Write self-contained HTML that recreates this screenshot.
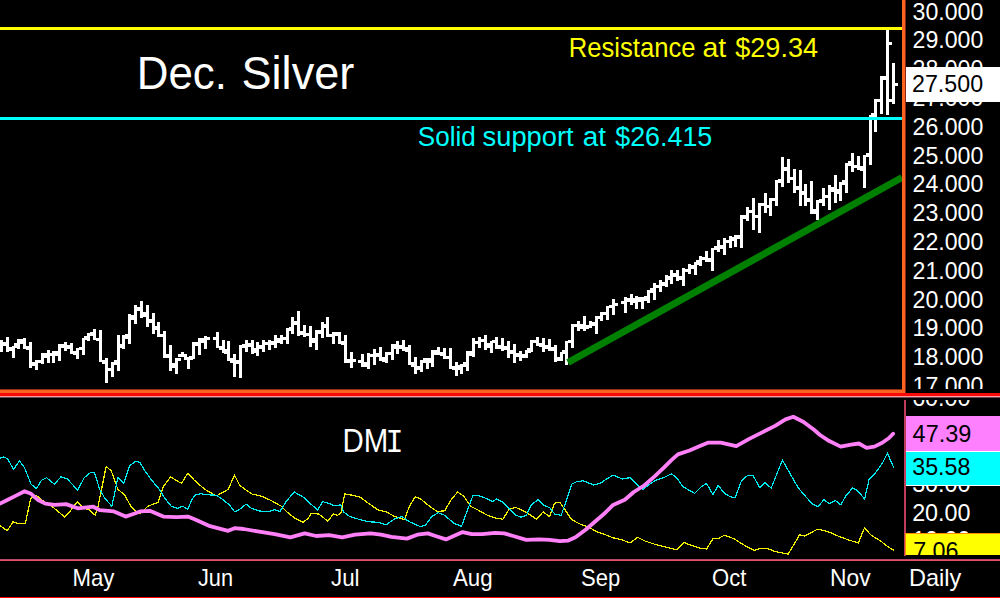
<!DOCTYPE html>
<html><head><meta charset="utf-8"><title>Dec. Silver</title>
<style>html,body{margin:0;padding:0;background:#000;width:1000px;height:598px;overflow:hidden}svg{display:block}</style>
</head><body><svg width="1000" height="598" viewBox="0 0 1000 598" font-family="'Liberation Sans', Arial, sans-serif"><defs>
<clipPath id="cpx"><rect x="906" y="0" width="94" height="389"/></clipPath>
<clipPath id="cdmi"><rect x="0" y="398" width="903" height="157"/></clipPath>
<clipPath id="cdax"><rect x="906" y="400" width="94" height="155"/></clipPath>
<clipPath id="cyb"><rect x="904" y="400" width="96" height="155"/></clipPath>
</defs><rect width="1000" height="598" fill="#000"/><path d="M0 340h3v12h-3zM-3 344h3v3h-3zM3 342h3v3h-3zM6 337h3v15h-3zM3 343h3v3h-3zM9 348h3v3h-3zM12 346h3v12h-3zM9 347h3v3h-3zM15 345h3v3h-3zM17 339h3v10h-3zM14 343h3v3h-3zM20 339h3v3h-3zM23 338h3v11h-3zM20 341h3v3h-3zM26 346h3v3h-3zM29 342h3v26h-3zM26 347h3v3h-3zM32 363h3v3h-3zM35 360h3v10h-3zM32 362h3v3h-3zM38 360h3v3h-3zM41 353h3v11h-3zM38 360h3v3h-3zM44 355h3v3h-3zM47 350h3v13h-3zM44 353h3v3h-3zM50 353h3v3h-3zM52 351h3v12h-3zM49 353h3v3h-3zM55 351h3v3h-3zM58 344h3v17h-3zM55 353h3v3h-3zM61 344h3v3h-3zM64 342h3v9h-3zM61 345h3v3h-3zM67 345h3v3h-3zM70 343h3v11h-3zM67 346h3v3h-3zM73 352h3v3h-3zM76 348h3v11h-3zM73 351h3v3h-3zM79 347h3v3h-3zM82 338h3v17h-3zM79 347h3v3h-3zM85 337h3v3h-3zM87 333h3v8h-3zM84 336h3v3h-3zM90 332h3v3h-3zM93 329h3v11h-3zM90 333h3v3h-3zM96 338h3v3h-3zM99 330h3v32h-3zM96 338h3v3h-3zM102 360h3v3h-3zM105 358h3v25h-3zM102 361h3v3h-3zM108 368h3v3h-3zM111 362h3v15h-3zM108 368h3v3h-3zM114 362h3v3h-3zM117 335h3v36h-3zM114 360h3v3h-3zM120 344h3v3h-3zM122 335h3v14h-3zM119 345h3v3h-3zM125 334h3v3h-3zM128 314h3v30h-3zM125 336h3v3h-3zM131 315h3v3h-3zM134 305h3v19h-3zM131 317h3v3h-3zM137 307h3v3h-3zM140 301h3v17h-3zM137 308h3v3h-3zM143 312h3v3h-3zM146 305h3v22h-3zM143 314h3v3h-3zM149 319h3v3h-3zM152 313h3v21h-3zM149 320h3v3h-3zM155 327h3v3h-3zM157 322h3v15h-3zM154 326h3v3h-3zM160 334h3v3h-3zM163 331h3v27h-3zM160 334h3v3h-3zM166 355h3v3h-3zM169 345h3v26h-3zM166 354h3v3h-3zM172 365h3v3h-3zM175 358h3v16h-3zM172 363h3v3h-3zM178 358h3v3h-3zM181 352h3v5h-3zM178 354h3v3h-3zM184 354h3v3h-3zM187 357h3v12h-3zM184 357h3v3h-3zM190 357h3v3h-3zM192 342h3v17h-3zM189 356h3v3h-3zM195 342h3v3h-3zM198 338h3v17h-3zM195 343h3v3h-3zM201 338h3v3h-3zM204 336h3v13h-3zM201 340h3v3h-3zM207 337h3v3h-3zM216 332h3v16h-3zM213 337h3v3h-3zM219 346h3v3h-3zM222 340h3v13h-3zM219 347h3v3h-3zM225 349h3v3h-3zM227 341h3v20h-3zM224 351h3v3h-3zM230 358h3v3h-3zM233 354h3v23h-3zM230 360h3v3h-3zM236 361h3v3h-3zM239 345h3v33h-3zM236 360h3v3h-3zM242 345h3v3h-3zM245 340h3v12h-3zM242 344h3v3h-3zM248 344h3v3h-3zM251 340h3v14h-3zM248 343h3v3h-3zM254 350h3v3h-3zM256 342h3v14h-3zM253 348h3v3h-3zM259 346h3v3h-3zM262 340h3v12h-3zM259 345h3v3h-3zM265 342h3v3h-3zM268 340h3v10h-3zM265 342h3v3h-3zM271 341h3v3h-3zM274 335h3v13h-3zM271 342h3v3h-3zM277 338h3v3h-3zM280 335h3v9h-3zM277 340h3v3h-3zM283 337h3v3h-3zM286 328h3v16h-3zM283 337h3v3h-3zM289 327h3v3h-3zM291 317h3v17h-3zM288 328h3v3h-3zM294 321h3v3h-3zM297 311h3v25h-3zM294 322h3v3h-3zM300 332h3v3h-3zM303 325h3v12h-3zM300 331h3v3h-3zM306 333h3v3h-3zM309 326h3v21h-3zM306 333h3v3h-3zM312 338h3v3h-3zM315 330h3v20h-3zM312 340h3v3h-3zM318 330h3v3h-3zM321 322h3v16h-3zM318 331h3v3h-3zM324 324h3v3h-3zM326 317h3v20h-3zM323 325h3v3h-3zM329 334h3v3h-3zM332 332h3v12h-3zM329 334h3v3h-3zM335 333h3v3h-3zM338 332h3v12h-3zM335 332h3v3h-3zM341 341h3v3h-3zM344 335h3v28h-3zM341 342h3v3h-3zM347 360h3v3h-3zM350 352h3v16h-3zM347 359h3v3h-3zM353 359h3v3h-3zM361 354h3v13h-3zM358 360h3v3h-3zM364 362h3v3h-3zM367 353h3v16h-3zM364 364h3v3h-3zM370 354h3v3h-3zM373 349h3v16h-3zM370 354h3v3h-3zM376 354h3v3h-3zM379 347h3v14h-3zM376 353h3v3h-3zM382 357h3v3h-3zM385 352h3v11h-3zM382 359h3v3h-3zM388 352h3v3h-3zM391 344h3v16h-3zM388 352h3v3h-3zM394 346h3v3h-3zM396 341h3v13h-3zM393 344h3v3h-3zM399 346h3v3h-3zM402 340h3v11h-3zM399 345h3v3h-3zM405 349h3v3h-3zM408 345h3v20h-3zM405 347h3v3h-3zM411 362h3v3h-3zM414 357h3v17h-3zM411 364h3v3h-3zM417 366h3v3h-3zM420 360h3v12h-3zM417 367h3v3h-3zM423 360h3v3h-3zM426 358h3v11h-3zM423 358h3v3h-3zM429 358h3v3h-3zM431 350h3v17h-3zM428 360h3v3h-3zM434 350h3v3h-3zM437 347h3v8h-3zM434 352h3v3h-3zM440 352h3v3h-3zM443 348h3v11h-3zM440 353h3v3h-3zM446 356h3v3h-3zM449 348h3v21h-3zM446 356h3v3h-3zM452 366h3v3h-3zM455 362h3v14h-3zM452 367h3v3h-3zM458 367h3v3h-3zM460 364h3v10h-3zM457 365h3v3h-3zM463 364h3v3h-3zM466 351h3v20h-3zM463 362h3v3h-3zM469 351h3v3h-3zM472 338h3v19h-3zM469 353h3v3h-3zM475 341h3v3h-3zM478 337h3v11h-3zM475 341h3v3h-3zM481 339h3v3h-3zM484 335h3v15h-3zM481 339h3v3h-3zM487 343h3v3h-3zM490 341h3v12h-3zM487 345h3v3h-3zM493 340h3v3h-3zM495 337h3v12h-3zM492 340h3v3h-3zM498 345h3v3h-3zM501 338h3v13h-3zM498 346h3v3h-3zM504 346h3v3h-3zM507 341h3v17h-3zM504 347h3v3h-3zM510 351h3v3h-3zM513 344h3v19h-3zM510 350h3v3h-3zM516 354h3v3h-3zM519 351h3v10h-3zM516 353h3v3h-3zM522 355h3v3h-3zM525 350h3v8h-3zM522 354h3v3h-3zM528 350h3v3h-3zM530 340h3v12h-3zM527 348h3v3h-3zM533 340h3v3h-3zM536 337h3v9h-3zM533 340h3v3h-3zM539 344h3v3h-3zM542 338h3v14h-3zM539 343h3v3h-3zM545 346h3v3h-3zM548 339h3v12h-3zM545 345h3v3h-3zM551 348h3v3h-3zM554 345h3v17h-3zM551 347h3v3h-3zM557 357h3v3h-3zM560 352h3v9h-3zM557 358h3v3h-3zM563 351h3v3h-3zM565 341h3v24h-3zM562 350h3v3h-3zM568 340h3v3h-3zM571 324h3v24h-3zM568 340h3v3h-3zM574 324h3v3h-3zM577 321h3v10h-3zM574 324h3v3h-3zM580 324h3v3h-3zM583 316h3v15h-3zM580 326h3v3h-3zM586 326h3v3h-3zM589 321h3v7h-3zM586 325h3v3h-3zM592 322h3v3h-3zM595 316h3v18h-3zM592 323h3v3h-3zM598 316h3v3h-3zM600 312h3v9h-3zM597 316h3v3h-3zM603 312h3v3h-3zM606 306h3v14h-3zM603 312h3v3h-3zM609 305h3v3h-3zM612 299h3v16h-3zM609 305h3v3h-3zM615 303h3v3h-3zM624 297h3v16h-3zM621 301h3v3h-3zM627 299h3v3h-3zM630 294h3v11h-3zM627 298h3v3h-3zM633 300h3v3h-3zM635 296h3v13h-3zM632 298h3v3h-3zM638 299h3v3h-3zM641 297h3v12h-3zM638 297h3v3h-3zM644 296h3v3h-3zM647 290h3v13h-3zM644 298h3v3h-3zM650 290h3v3h-3zM653 283h3v17h-3zM650 288h3v3h-3zM656 285h3v3h-3zM659 280h3v12h-3zM656 285h3v3h-3zM662 282h3v3h-3zM665 275h3v12h-3zM662 283h3v3h-3zM668 276h3v3h-3zM670 270h3v14h-3zM667 277h3v3h-3zM673 274h3v3h-3zM676 270h3v11h-3zM673 273h3v3h-3zM679 276h3v3h-3zM682 268h3v18h-3zM679 277h3v3h-3zM685 269h3v3h-3zM688 264h3v10h-3zM685 269h3v3h-3zM691 265h3v3h-3zM694 262h3v13h-3zM691 266h3v3h-3zM697 262h3v3h-3zM699 256h3v10h-3zM696 260h3v3h-3zM702 257h3v3h-3zM705 251h3v11h-3zM702 257h3v3h-3zM708 259h3v3h-3zM711 248h3v23h-3zM708 258h3v3h-3zM714 247h3v3h-3zM717 240h3v12h-3zM714 246h3v3h-3zM720 245h3v3h-3zM723 238h3v17h-3zM720 246h3v3h-3zM726 240h3v3h-3zM729 236h3v12h-3zM726 240h3v3h-3zM732 237h3v3h-3zM734 235h3v12h-3zM731 238h3v3h-3zM737 235h3v3h-3zM740 215h3v33h-3zM737 236h3v3h-3zM743 215h3v3h-3zM746 207h3v14h-3zM743 216h3v3h-3zM749 210h3v3h-3zM752 198h3v32h-3zM749 210h3v3h-3zM755 215h3v3h-3zM758 203h3v30h-3zM755 215h3v3h-3zM761 203h3v3h-3zM764 193h3v20h-3zM761 203h3v3h-3zM767 205h3v3h-3zM769 198h3v18h-3zM766 205h3v3h-3zM772 198h3v3h-3zM775 180h3v26h-3zM772 198h3v3h-3zM778 180h3v3h-3zM781 157h3v30h-3zM778 179h3v3h-3zM784 167h3v3h-3zM787 159h3v24h-3zM784 168h3v3h-3zM790 177h3v3h-3zM793 169h3v24h-3zM790 177h3v3h-3zM796 186h3v3h-3zM799 170h3v36h-3zM796 187h3v3h-3zM802 191h3v3h-3zM804 184h3v22h-3zM801 192h3v3h-3zM807 198h3v3h-3zM810 181h3v33h-3zM807 199h3v3h-3zM813 209h3v3h-3zM816 200h3v20h-3zM813 211h3v3h-3zM819 200h3v3h-3zM822 188h3v18h-3zM819 199h3v3h-3zM825 195h3v3h-3zM828 185h3v25h-3zM825 195h3v3h-3zM831 187h3v3h-3zM834 175h3v28h-3zM831 189h3v3h-3zM837 189h3v3h-3zM839 182h3v19h-3zM836 191h3v3h-3zM842 182h3v3h-3zM845 163h3v30h-3zM842 180h3v3h-3zM848 163h3v3h-3zM851 153h3v19h-3zM848 161h3v3h-3zM854 165h3v3h-3zM857 156h3v14h-3zM854 165h3v3h-3zM860 168h3v3h-3zM863 155h3v33h-3zM860 166h3v3h-3zM866 154h3v3h-3zM869 115h3v50h-3zM866 153h3v3h-3zM872 115h3v3h-3zM874 99h3v33h-3zM871 113h3v3h-3zM877 99h3v3h-3zM880 76h3v38h-3zM877 99h3v3h-3zM883 76h3v3h-3zM886 30h3v85h-3zM883 77h3v3h-3zM889 42h3v3h-3zM892 63h3v41h-3zM889 99h3v3h-3zM895 83h3v3h-3z" fill="#fff"/><rect x="0" y="27" width="902" height="3" fill="#ffff00"/><rect x="0" y="117" width="902" height="3" fill="#00ffff"/><line x1="568" y1="362.5" x2="902" y2="177.5" stroke="#008000" stroke-width="7"/><text x="136.77" y="88.5" font-size="46.5" fill="#fff" textLength="90.25" lengthAdjust="spacingAndGlyphs">Dec.</text><text x="241.56" y="88.5" font-size="46.5" fill="#fff" textLength="112.71" lengthAdjust="spacingAndGlyphs">Silver</text><text x="568.74" y="57" font-size="27.5" fill="#ffff00" textLength="126.74" lengthAdjust="spacingAndGlyphs">Resistance</text><text x="702.47" y="57" font-size="27.5" fill="#ffff00" textLength="23.67" lengthAdjust="spacingAndGlyphs">at</text><text x="735.3" y="57" font-size="27.5" fill="#ffff00" textLength="82.72" lengthAdjust="spacingAndGlyphs">$29.34</text><text x="417.83" y="146.4" font-size="27" fill="#00ffff" textLength="57.98" lengthAdjust="spacingAndGlyphs">Solid</text><text x="482.59" y="146.4" font-size="27" fill="#00ffff" textLength="91.07" lengthAdjust="spacingAndGlyphs">support</text><text x="582.67" y="146.4" font-size="27" fill="#00ffff" textLength="23.25" lengthAdjust="spacingAndGlyphs">at</text><text x="615.2" y="146.4" font-size="27" fill="#00ffff" textLength="97.11" lengthAdjust="spacingAndGlyphs">$26.415</text><g clip-path="url(#cpx)"><text x="912.53" y="19.6" font-size="24" fill="#fff" textLength="70.86" lengthAdjust="spacingAndGlyphs">30.000</text><text x="912.53" y="48.4" font-size="24" fill="#fff" textLength="70.86" lengthAdjust="spacingAndGlyphs">29.000</text><text x="912.53" y="77.2" font-size="24" fill="#fff" textLength="70.86" lengthAdjust="spacingAndGlyphs">28.000</text><text x="912.53" y="106.0" font-size="24" fill="#fff" textLength="70.86" lengthAdjust="spacingAndGlyphs">27.000</text><text x="912.53" y="134.8" font-size="24" fill="#fff" textLength="70.86" lengthAdjust="spacingAndGlyphs">26.000</text><text x="912.53" y="163.6" font-size="24" fill="#fff" textLength="70.86" lengthAdjust="spacingAndGlyphs">25.000</text><text x="912.53" y="192.4" font-size="24" fill="#fff" textLength="70.86" lengthAdjust="spacingAndGlyphs">24.000</text><text x="912.53" y="221.2" font-size="24" fill="#fff" textLength="70.86" lengthAdjust="spacingAndGlyphs">23.000</text><text x="912.53" y="250.0" font-size="24" fill="#fff" textLength="70.86" lengthAdjust="spacingAndGlyphs">22.000</text><text x="912.53" y="278.8" font-size="24" fill="#fff" textLength="70.86" lengthAdjust="spacingAndGlyphs">21.000</text><text x="912.53" y="307.6" font-size="24" fill="#fff" textLength="70.86" lengthAdjust="spacingAndGlyphs">20.000</text><text x="912.53" y="336.4" font-size="24" fill="#fff" textLength="70.86" lengthAdjust="spacingAndGlyphs">19.000</text><text x="912.53" y="365.2" font-size="24" fill="#fff" textLength="70.86" lengthAdjust="spacingAndGlyphs">18.000</text><text x="912.53" y="394.0" font-size="24" fill="#fff" textLength="70.86" lengthAdjust="spacingAndGlyphs">17.000</text></g><rect x="906" y="67" width="94" height="35" fill="#fff"/><text x="912.03" y="91.6" font-size="24" fill="#000" textLength="71.06" lengthAdjust="spacingAndGlyphs">27.500</text><rect x="905" y="0" width="1" height="393" fill="#8c2412"/><rect x="902" y="0" width="3" height="393" fill="#fa6422"/><rect x="0" y="389" width="902" height="1" fill="#962c14"/><rect x="0" y="390" width="905" height="3" fill="#fa6422"/><rect x="0" y="393" width="1000" height="3" fill="#f80a0a"/><rect x="0" y="396" width="1000" height="1" fill="#ffa0a0"/><rect x="0" y="397" width="1000" height="1" fill="#6a4450"/><g clip-path="url(#cdmi)" fill="none" stroke-linejoin="round"><polyline points="0.0,525.6 7.3,530.8 13.0,521.8 19.4,523.8 25.4,523.8 30.6,498.4 36.3,495.3 41.5,499.7 51.8,506.2 64.8,517.1 70.0,511.4 77.2,501.6 82.9,507.5 89.4,510.1 95.3,515.3 98.4,504.9 106.2,466.1 111.4,471.2 117.9,489.4 124.4,494.6 130.8,506.2 136.0,511.4 140.0,514.0 147.8,506.2 158.1,502.3 163.3,486.8 170.6,476.9 181.5,483.4 187.9,473.1 194.4,480.3 204.8,489.4 216.4,495.9 228.1,489.4 234.6,475.1 239.7,485.5 252.7,494.6 259.2,495.3 269.5,499.7 281.2,506.2 287.8,512.7 295.5,518.7 303.3,522.3 308.5,517.9 311.1,513.5 318.9,514.0 327.9,521.2 333.1,514.0 337.5,515.3 340.9,512.7 344.8,493.8 352.5,495.3 360.3,497.2 370.7,504.9 378.4,510.1 386.2,511.9 394.0,516.1 404.4,519.7 409.5,506.2 415.2,496.9 420.0,498.4 427.8,504.9 436.8,511.4 444.6,510.9 451.1,499.7 457.6,492.0 464.0,496.4 470.5,506.2 479.6,510.9 487.4,515.3 495.1,517.9 502.9,519.2 509.4,508.8 515.9,507.5 523.6,510.9 528.8,514.0 536.6,519.2 543.1,511.9 549.5,516.6 554.7,503.1 559.9,502.3 565.2,510.1 571.7,519.7 580.7,524.4 588.5,526.9 596.3,531.6 604.0,534.2 613.1,537.8 622.2,539.9 630.0,543.0 637.7,537.3 645.5,541.2 655.9,544.6 666.2,547.2 676.6,549.7 683.8,542.5 692.1,545.6 700.0,548.2 706.5,549.0 713.0,538.6 718.1,538.6 724.6,535.2 733.7,538.6 744.0,545.1 754.4,550.3 760.9,548.2 768.7,549.0 775.1,551.6 788.1,554.1 799.7,534.7 804.9,536.0 817.9,529.0 829.1,532.1 838.1,536.0 848.5,539.9 858.3,543.0 864.6,527.5 870.5,534.7 880.9,541.2 887.4,546.4 893.8,550.3" stroke="#f2f000" stroke-width="1.2" shape-rendering="crispEdges"/><polyline points="0.0,458.3 3.9,457.0 7.8,459.0 13.5,469.4 19.4,460.9 24.6,467.9 31.1,484.2 36.3,488.6 41.5,480.3 46.6,477.7 54.4,484.2 60.9,476.9 67.4,479.0 77.7,490.2 84.2,477.7 90.7,472.5 94.6,473.0 99.7,489.4 104.9,498.4 111.9,506.2 117.9,477.7 123.8,483.4 129.5,466.0 136.0,461.1 140.0,462.7 145.2,471.2 151.7,480.3 159.4,489.4 164.6,497.9 171.1,506.2 177.6,508.3 182.7,506.2 187.9,509.3 191.8,499.7 195.7,494.6 200.9,493.8 208.7,494.8 216.4,495.3 222.9,499.7 229.4,504.9 234.6,511.9 239.7,509.3 246.2,504.1 251.4,508.3 259.2,510.9 266.9,511.9 274.7,509.8 280.0,511.4 286.5,501.0 294.2,492.0 303.3,497.2 317.6,510.1 322.7,501.6 329.2,503.6 334.4,505.7 340.9,504.9 343.5,511.9 349.9,516.6 360.3,519.7 369.4,521.8 378.4,522.3 386.2,524.9 394.0,519.2 401.8,516.6 409.5,521.8 419.9,526.4 425.2,525.6 431.7,516.6 438.1,512.7 444.6,515.3 453.7,523.1 461.5,526.4 467.9,508.8 473.1,495.3 479.6,495.9 486.1,498.4 492.5,501.6 496.4,499.0 502.9,502.3 509.4,508.8 515.9,515.3 521.0,517.1 526.2,515.5 531.4,504.9 537.9,499.7 544.4,505.7 549.5,507.5 554.7,514.0 561.2,515.3 565.2,503.6 571.7,484.2 576.8,481.6 583.3,480.8 593.7,485.0 600.2,483.4 606.6,479.0 613.1,475.1 622.2,479.0 629.9,477.7 636.4,484.2 642.9,489.4 648.1,485.5 654.6,480.8 663.6,477.7 671.4,473.8 676.6,477.7 683.1,486.8 694.7,493.3 701.2,486.8 706.5,483.4 713.0,494.6 718.1,485.5 724.6,493.3 729.8,496.4 735.0,497.9 741.5,480.8 747.9,475.1 753.1,475.6 759.6,487.6 764.8,482.4 771.2,488.1 776.4,475.1 782.4,460.1 789.4,472.5 798.4,488.1 806.2,497.2 812.7,504.1 817.9,506.7 823.9,499.7 829.1,503.6 835.5,500.5 840.7,504.9 845.9,495.9 852.4,488.1 857.6,490.7 864.6,499.0 869.2,479.0 875.7,472.5 882.2,463.5 887.4,453.1 893.8,467.9" stroke="#00ecf0" stroke-width="1.2" shape-rendering="crispEdges"/><polyline points="0.0,503.6 7.8,499.7 15.5,495.9 24.6,491.2 31.1,493.8 37.6,499.7 45.3,503.6 54.4,504.9 66.1,504.1 77.7,508.3 93.3,506.7 99.7,510.1 114.0,511.4 125.6,516.6 134.7,513.5 140.0,511.4 150.4,510.9 163.3,516.6 176.3,517.1 187.9,516.6 195.7,519.7 210.0,526.2 228.1,530.8 234.6,528.2 243.6,529.0 259.2,531.6 274.7,534.2 290.4,537.3 304.6,533.4 316.3,536.0 329.2,535.2 342.2,537.3 355.1,534.7 370.7,533.4 381.0,534.7 391.4,536.8 406.9,538.6 417.3,534.7 427.8,533.4 435.5,536.0 445.9,539.4 453.7,536.0 462.7,532.1 471.8,534.2 482.2,534.2 495.1,532.9 504.2,533.4 513.3,536.0 526.2,539.9 539.2,539.4 549.5,539.9 559.9,541.2 567.8,540.7 575.5,537.3 585.9,529.5 596.3,520.5 605.3,512.7 613.1,504.9 624.8,499.7 633.8,492.0 644.2,485.5 654.6,476.4 663.6,467.9 671.4,460.1 677.9,454.4 689.5,450.5 699.9,446.1 707.8,442.7 720.7,442.7 736.3,446.1 749.2,438.9 762.2,432.4 775.1,425.9 785.5,419.4 793.3,416.8 803.6,422.0 814.0,429.8 820.0,435.0 827.8,440.2 840.7,446.6 851.1,444.6 858.9,443.5 866.6,447.9 874.4,446.6 882.2,442.7 888.7,438.3 893.1,433.7" stroke="#ff80f8" stroke-width="3.8" stroke-linecap="round"/></g><text x="342.62" y="452.3" font-size="33" fill="#fff" textLength="45.76" lengthAdjust="spacingAndGlyphs">DM</text><text x="385.6" y="452.3" font-size="33" fill="#fff" font-family="'Liberation Mono', monospace" textLength="18" lengthAdjust="spacingAndGlyphs">I</text><rect x="904" y="400" width="2" height="156" fill="#c03c5c"/><g clip-path="url(#cdax)"><text x="912.13" y="405.6" font-size="24" fill="#fff" textLength="58.43" lengthAdjust="spacingAndGlyphs">60.00</text><text x="912.13" y="434.4" font-size="24" fill="#fff" textLength="58.43" lengthAdjust="spacingAndGlyphs">50.00</text><text x="913.1" y="463.2" font-size="24" fill="#fff" textLength="57.46" lengthAdjust="spacingAndGlyphs">40.00</text><text x="912.13" y="492.0" font-size="24" fill="#fff" textLength="58.43" lengthAdjust="spacingAndGlyphs">30.00</text><text x="912.13" y="520.8" font-size="24" fill="#fff" textLength="58.43" lengthAdjust="spacingAndGlyphs">20.00</text><text x="912.13" y="548.4" font-size="24" fill="#fff" textLength="58.43" lengthAdjust="spacingAndGlyphs">10.00</text></g><rect x="906" y="416" width="94" height="35" fill="#ff80ff"/><text x="912.6" y="441.7" font-size="24" fill="#000" textLength="58.74" lengthAdjust="spacingAndGlyphs">47.39</text><rect x="906" y="451" width="94" height="1" fill="#fff"/><rect x="906" y="452" width="94" height="33" fill="#00ffff"/><rect x="906" y="485" width="94" height="1" fill="#fff"/><text x="912.23" y="475.1" font-size="24" fill="#000" textLength="58.13" lengthAdjust="spacingAndGlyphs">35.58</text><g clip-path="url(#cyb)"><rect x="905" y="533" width="95" height="22" fill="#ff9000"/><rect x="906" y="534" width="94" height="21" fill="#ffff00"/><text x="913.13" y="558.5" font-size="24" fill="#000" textLength="45.45" lengthAdjust="spacingAndGlyphs">7.06</text></g><rect x="0" y="559" width="1000" height="1" fill="#b84868"/><rect x="0" y="560" width="1000" height="1" fill="#e85060"/><text x="72.55" y="586" font-size="24" fill="#fff" textLength="41.84" lengthAdjust="spacingAndGlyphs">May</text><text x="198.0" y="586" font-size="24" fill="#fff" textLength="35.04" lengthAdjust="spacingAndGlyphs">Jun</text><text x="331.0" y="586" font-size="24" fill="#fff" textLength="28.57" lengthAdjust="spacingAndGlyphs">Jul</text><text x="453.0" y="586" font-size="24" fill="#fff" textLength="39.65" lengthAdjust="spacingAndGlyphs">Aug</text><text x="581.08" y="586" font-size="24" fill="#fff" textLength="39.16" lengthAdjust="spacingAndGlyphs">Sep</text><text x="712.08" y="586" font-size="24" fill="#fff" textLength="34.32" lengthAdjust="spacingAndGlyphs">Oct</text><text x="830.1" y="586" font-size="24" fill="#fff" textLength="40.61" lengthAdjust="spacingAndGlyphs">Nov</text><text x="909.04" y="586" font-size="24" fill="#fff" textLength="52.32" lengthAdjust="spacingAndGlyphs">Daily</text><rect x="0" y="597" width="1000" height="1" fill="#ff0000"/></svg></body></html>
